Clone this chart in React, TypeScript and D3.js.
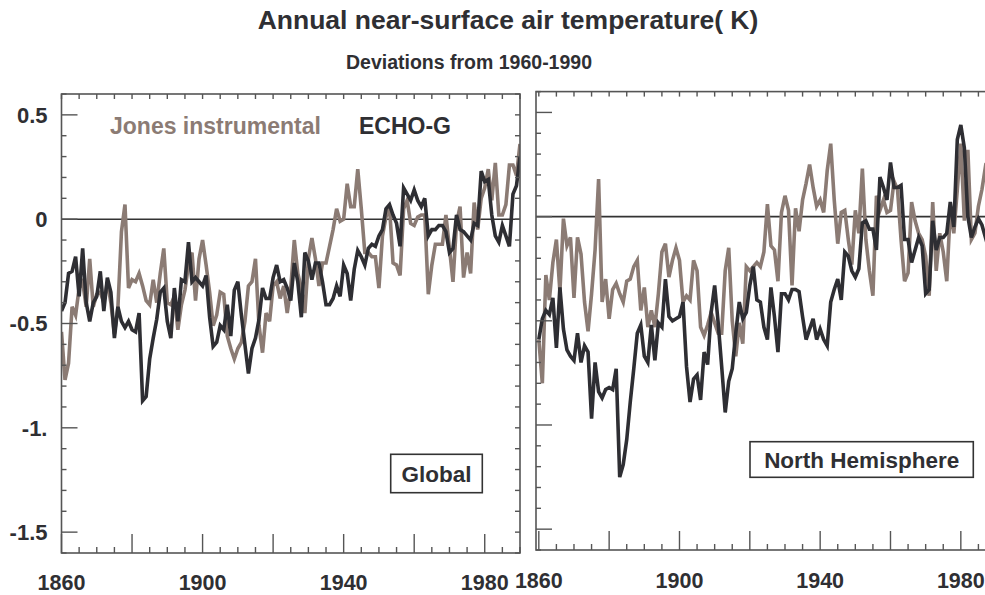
import React from "react";
import * as d3 from "d3";

// ---------- data (annual values 1860..1990) ----------
const startYear = 1860;
const endYear = 1990;

const globalEcho = [
  -0.44, -0.40, -0.26, -0.25, -0.18, -0.37, -0.14, -0.40, -0.49, -0.40,
  -0.37, -0.25, -0.44, -0.28, -0.35, -0.57, -0.42, -0.49, -0.52, -0.49,
  -0.53, -0.54, -0.45, -0.87, -0.85, -0.67, -0.57, -0.48, -0.35, -0.33,
  -0.49, -0.57, -0.33, -0.49, -0.29, -0.30, -0.11, -0.30, -0.28, -0.30,
  -0.32, -0.27, -0.47, -0.61, -0.59, -0.51, -0.53, -0.41, -0.56, -0.34,
  -0.30, -0.46, -0.60, -0.74, -0.62, -0.57, -0.48, -0.33, -0.38, -0.38,
  -0.28, -0.22, -0.30, -0.29, -0.33, -0.39, -0.21, -0.30, -0.47, -0.16,
  -0.20, -0.29, -0.21, -0.21, -0.30, -0.41, -0.41, -0.38, -0.32, -0.37,
  -0.22, -0.26, -0.39, -0.24, -0.15, -0.18, -0.22, -0.14, -0.12, -0.13,
  -0.08, -0.05, 0.05, 0.07, 0.02, -0.02, -0.13, 0.15, 0.12, 0.09,
  0.14, 0.09, 0.06, 0.10, -0.08, -0.05, -0.05, -0.03, -0.03, -0.06,
  -0.16, -0.14, 0.02, -0.05, -0.06, -0.08, -0.10, -0.02, -0.03, 0.23,
  0.18, 0.19, 0.02, -0.08, -0.11, -0.03, -0.08, -0.13, 0.12, 0.16,
  0.30,
];

const globalJones = [
  -0.54, -0.77, -0.69, -0.42, -0.46, -0.33, -0.30, -0.42, -0.19, -0.42,
  -0.36, -0.35, -0.40, -0.30, -0.40, -0.55, -0.42, -0.06, 0.07, -0.33,
  -0.29, -0.30, -0.26, -0.32, -0.39, -0.41, -0.29, -0.40, -0.26, -0.14,
  -0.40, -0.41, -0.37, -0.53, -0.41, -0.34, -0.22, -0.16, -0.39, -0.19,
  -0.10, -0.22, -0.35, -0.51, -0.46, -0.35, -0.36, -0.56, -0.62, -0.67,
  -0.62, -0.59, -0.49, -0.32, -0.30, -0.19, -0.51, -0.64, -0.45, -0.49,
  -0.32, -0.30, -0.38, -0.32, -0.45, -0.33, -0.10, -0.26, -0.33, -0.45,
  -0.19, -0.09, -0.19, -0.32, -0.21, -0.21, -0.13, -0.05, 0.05, -0.01,
  0.00, 0.17, 0.06, 0.06, 0.24, 0.05, -0.16, -0.16, -0.18, -0.18,
  -0.33, -0.08, 0.01, 0.06, -0.21, -0.22, -0.27, 0.05, 0.09, -0.02,
  -0.03, 0.01, 0.02, 0.02, -0.36, -0.22, -0.12, -0.12, -0.12, 0.02,
  -0.14, -0.30, -0.02, 0.06, -0.28, -0.16, -0.26, 0.08, -0.05, 0.10,
  0.15, 0.24, 0.09, 0.27, 0.02, 0.02, 0.07, 0.26, 0.26, 0.21,
  0.36,
];

const nhEcho = [
  -0.59, -0.49, -0.45, -0.47, -0.39, -0.63, -0.34, -0.54, -0.64, -0.67,
  -0.69, -0.56, -0.70, -0.62, -0.65, -0.97, -0.70, -0.84, -0.87, -0.83,
  -0.82, -0.83, -0.73, -1.25, -1.19, -1.07, -0.89, -0.73, -0.56, -0.52,
  -0.67, -0.70, -0.52, -0.69, -0.51, -0.53, -0.30, -0.48, -0.50, -0.49,
  -0.48, -0.41, -0.72, -0.89, -0.78, -0.76, -0.88, -0.65, -0.71, -0.46,
  -0.33, -0.51, -0.72, -0.94, -0.79, -0.73, -0.56, -0.41, -0.49, -0.46,
  -0.33, -0.24, -0.40, -0.41, -0.53, -0.59, -0.34, -0.48, -0.65, -0.37,
  -0.37, -0.40, -0.35, -0.35, -0.36, -0.48, -0.59, -0.54, -0.49, -0.59,
  -0.54, -0.59, -0.62, -0.41, -0.35, -0.30, -0.40, -0.17, -0.19, -0.26,
  -0.29, -0.25, -0.03, -0.02, -0.06, -0.06, -0.16, 0.19, 0.14, 0.08,
  0.26, 0.14, 0.14, 0.15, -0.11, -0.11, -0.22, -0.16, -0.10, -0.14,
  -0.37, -0.35, -0.02, -0.16, -0.10, -0.10, -0.08, 0.07, -0.05, 0.37,
  0.44, 0.33, 0.00, -0.10, -0.05, -0.01, -0.04, -0.10, -0.05, 0.00,
  0.08,
];

const nhJones = [
  -0.59, -0.80, -0.28, -0.40, -0.22, -0.11, -0.36, -0.01, -0.14, -0.10,
  -0.39, -0.10, -0.18, -0.41, -0.55, -0.37, -0.16, 0.18, -0.41, -0.30,
  -0.49, -0.35, -0.32, -0.37, -0.41, -0.31, -0.30, -0.24, -0.21, -0.45,
  -0.34, -0.53, -0.45, -0.53, -0.37, -0.17, -0.13, -0.29, -0.21, -0.15,
  -0.21, -0.41, -0.38, -0.40, -0.21, -0.26, -0.53, -0.57, -0.52, -0.46,
  -0.51, -0.56, -0.56, -0.26, -0.15, -0.50, -0.67, -0.51, -0.61, -0.24,
  -0.26, -0.24, -0.22, -0.24, -0.17, 0.06, -0.14, -0.16, -0.31, 0.02,
  0.10, 0.03, -0.33, 0.04, -0.07, 0.08, 0.16, 0.25, 0.14, 0.05,
  0.08, 0.02, 0.22, 0.35, 0.08, -0.13, 0.02, 0.03, -0.11, -0.23,
  0.03, -0.08, 0.23, -0.11, -0.26, -0.38, 0.10, 0.03, 0.08, 0.02,
  0.03, 0.17, 0.13, -0.11, -0.31, -0.27, 0.07, -0.02, -0.08, -0.11,
  -0.19, -0.38, 0.07, -0.26, -0.08, -0.17, -0.31, 0.03, -0.08, 0.13,
  0.35, -0.02, 0.32, -0.11, -0.08, 0.05, 0.13, 0.24, 0.22, 0.29,
  0.30,
];

const yTickValues = [0.5, 0, -0.5, -1, -1.5];
const yTickLabels = ["0.5", "0", "-0.5", "-1.", "-1.5"];
const xLabelYears = [1860, 1900, 1940, 1980];
const xLabelTexts = ["1860", "1900", "1940", "1980"];

const title = "Annual near-surface air temperature( K)";
const subtitle = "Deviations from 1960-1990";
const legendJones = "Jones instrumental";
const legendEcho = "ECHO-G";
const panelNames = ["Global", "North Hemisphere"];

// ---------- styles ----------
const FONT = "'Liberation Sans', Arial, Helvetica, sans-serif";
const BROWN = "#8b7b74";
const DARK = "#2e2e33";
const AXIS = "#555";
const TEXT = "#2f2f33";

type PanelProps = {
  x0: number; x1: number; y0: number; y1: number;
  xDomainStart: number;
  echo: number[]; jones: number[];
  showYLabels: boolean;
  name: string;
  box: { x: number; y: number; w: number; h: number };
  id: string;
};

function Panel(p: PanelProps) {
  const x = d3.scaleLinear().domain([p.xDomainStart, endYear]).range([p.x0, p.x1]);
  const y = d3.scaleLinear().domain([-1.6, 0.6]).range([p.y1, p.y0]);
  const years = d3.range(startYear, endYear + 1);
  const line = d3
    .line<number>()
    .x((_, i) => x(years[i]))
    .y((d) => y(d));

  const yMinor = d3.range(-16, 7).map((k) => k / 10);
  const xMinor = d3.range(startYear, endYear + 1, 5);

  return (
    <g>
      <defs>
        <clipPath id={p.id}>
          <rect x={p.x0} y={p.y0} width={p.x1 - p.x0} height={p.y1 - p.y0} />
        </clipPath>
      </defs>
      {/* zero line */}
      <line x1={p.x0} x2={p.x1} y1={y(0)} y2={y(0)} stroke="#333" strokeWidth={1.6} />
      <g clipPath={`url(#${p.id})`} fill="none" strokeWidth={3.6}>
        <path d={line(p.jones) || ""} stroke={BROWN} />
        <path d={line(p.echo) || ""} stroke={DARK} />
      </g>
      {/* frame */}
      <rect x={p.x0} y={p.y0} width={p.x1 - p.x0} height={p.y1 - p.y0} fill="none" stroke={AXIS} strokeWidth={1.6} />
      {/* left / right ticks */}
      {yMinor.map((v) => {
        const major = Math.abs(v * 2 - Math.round(v * 2)) < 1e-6;
        return (
          <g key={"y" + v} stroke={AXIS} strokeWidth={1.4}>
            <line x1={p.x0} x2={p.x0 + (major ? 16 : 5)} y1={y(v)} y2={y(v)} />
            <line x1={p.x1} x2={p.x1 - 5} y1={y(v)} y2={y(v)} />
          </g>
        );
      })}
      {/* top / bottom ticks */}
      {xMinor.map((yr) => {
        const major = yr % 20 === 0;
        return (
          <g key={"x" + yr} stroke={AXIS} strokeWidth={1.4}>
            <line x1={x(yr)} x2={x(yr)} y1={p.y0} y2={p.y0 + 5} />
            <line x1={x(yr)} x2={x(yr)} y1={p.y1} y2={p.y1 - (major ? 19 : 6)} />
          </g>
        );
      })}
      {p.showYLabels &&
        yTickValues.map((v, i) => (
          <text key={"yl" + v} x={p.x0 - 14} y={y(v)} dy="0.36em" textAnchor="end"
            fontFamily={FONT} fontWeight="bold" fontSize={22} fill={TEXT}>
            {yTickLabels[i]}
          </text>
        ))}
      {xLabelYears.map((yr, i) => (
        <text key={"xl" + yr} x={x(yr)} y={Math.min(p.y1 + 38, 589.5)} textAnchor="middle"
          fontFamily={FONT} fontWeight="bold" fontSize={21.5} fill={TEXT}>
          {xLabelTexts[i]}
        </text>
      ))}
      <rect x={p.box.x} y={p.box.y} width={p.box.w} height={p.box.h} fill="#fff" stroke="#333" strokeWidth={1.6} />
      <text x={p.box.x + p.box.w / 2} y={p.box.y + p.box.h / 2} dy="0.36em" textAnchor="middle"
        fontFamily={FONT} fontWeight="bold" fontSize={22.5} fill={TEXT}>
        {p.name}
      </text>
    </g>
  );
}

export default function App() {
  return (
    <svg width={985} height={595} style={{ position: "absolute", left: 0, top: 0, background: "#fff" }}>
      <rect x={0} y={0} width={985} height={595} fill="#fff" />
      <text x={508} y={29} textAnchor="middle" fontFamily={FONT} fontWeight="bold" fontSize={26.5} fill={TEXT}>
        {title}
      </text>
      <text x={469} y={69} textAnchor="middle" fontFamily={FONT} fontWeight="bold" fontSize={19.5} fill={TEXT}>
        {subtitle}
      </text>
      <Panel id="clipL" x0={61.5} x1={520} y0={94} y1={553} xDomainStart={1860}
        echo={globalEcho} jones={globalJones} showYLabels={true} name={panelNames[0]}
        box={{ x: 390.7, y: 454.3, w: 91.6, h: 38.4 }} />
      <Panel id="clipR" x0={536} x1={996} y0={91.6} y1={550} xDomainStart={1859.2}
        echo={nhEcho} jones={nhJones} showYLabels={false} name={panelNames[1]}
        box={{ x: 750, y: 441.7, w: 223.3, h: 35.6 }} />
      <text x={110} y={134} fontFamily={FONT} fontWeight="bold" fontSize={23} fill={BROWN}>
        {legendJones}
      </text>
      <text x={359} y={134} fontFamily={FONT} fontWeight="bold" fontSize={23} fill={TEXT}>
        {legendEcho}
      </text>
    </svg>
  );
}
